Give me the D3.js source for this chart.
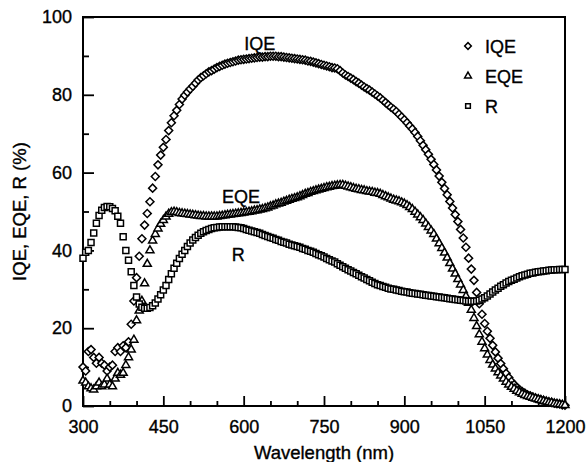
<!DOCTYPE html>
<html>
<head>
<meta charset="utf-8">
<script src="https://cdn.jsdelivr.net/npm/d3@7/dist/d3.min.js"></script>
<style>
  html, body { margin: 0; padding: 0; background: #fff; }
  svg text { font-family: "Liberation Sans", Arial, sans-serif; fill: #000; stroke: #000; stroke-width: 0.35px; }
</style>
</head>
<body>
<div id="chart"></div>
<script>
// Wavelength grid (nm), one reading every 5 nm
const wavelengths = d3.range(300, 1201, 5);

// IQE (%), 300 -> 1200 nm
const iqeValues = [
    10, 9, 14, 14.5, 12.5, 11, 12.5, 11, 10.5, 9, 10, 10.5, 14, 15, 14, 15.5, 15, 16.5, 21, 27,
    33, 38.5, 43, 46.5, 49.5, 52.5, 56, 59, 62, 64.5, 66.5, 68.5, 70.8, 72.8, 74.6, 76, 77.5, 78.9, 79.9, 80.7,
    81.5, 82.2, 83, 83.8, 84.4, 84.9, 85.4, 85.9, 86.2, 86.6, 87, 87.3, 87.6, 87.9, 88.1, 88.3, 88.5, 88.7, 88.9, 89,
    89.1, 89.2, 89.3, 89.4, 89.5, 89.6, 89.7, 89.7, 89.8, 89.8, 89.9, 89.9, 89.9, 89.8, 89.8, 89.7, 89.6, 89.5, 89.4, 89.3,
    89.2, 89.1, 89.0, 88.9, 88.7, 88.6, 88.4, 88.2, 88.0, 87.8, 87.6, 87.4, 87.2, 87.0, 86.9, 86.7, 86.2, 85.6, 85.1, 84.7,
    84.3, 83.9, 83.4, 83.0, 82.5, 82.0, 81.6, 81.2, 80.7, 80.2, 79.7, 79.2, 78.6, 78.0, 77.4, 76.8, 76.3, 75.7, 75.0, 74.3,
    73.6, 72.8, 72.0, 71.2, 70.3, 69.3, 68.2, 67.0, 65.9, 64.7, 63.4, 62.1, 60.7, 59.1, 57.5, 55.9, 54.3, 52.6, 50.9, 49.2,
    47.4, 45.4, 43.2, 40.8, 38.0, 35.2, 32.3, 29.2, 26.3, 23.6, 21.2, 19.2, 17.4, 15.6, 13.9, 12.3, 10.9, 9.6, 8.4, 7.3,
    6.3, 5.5, 4.8, 4.2, 3.7, 3.3, 2.9, 2.6, 2.3, 2.0, 1.8, 1.6, 1.4, 1.2, 1.0, 0.9, 0.7, 0.6, 0.5, 0.3,
    0.2
];

// EQE (%)
const eqeValues = [
    6.5, 6, 5, 4.5, 4.2, 5, 6, 5, 5.5, 7, 5.5, 5, 7, 8.5, 8, 8.5, 10.5, 12.5, 14.5, 17,
    22, 24.5, 27, 31.5, 36.5, 40, 42.5, 44.2, 45.6, 46.8, 47.8, 48.7, 49.4, 49.8, 49.9, 49.8, 49.6, 49.5, 49.4, 49.3,
    49.2, 49.1, 49, 48.9, 48.8, 48.8, 48.7, 48.7, 48.7, 48.7, 48.7, 48.8, 48.9, 49, 49.1, 49.2, 49.3, 49.4, 49.5, 49.6,
    49.7, 49.8, 49.9, 50, 50.2, 50.3, 50.5, 50.6, 50.8, 51, 51.3, 51.5, 51.8, 52, 52.2, 52.5, 52.7, 53, 53.2, 53.4,
    53.6, 53.9, 54.2, 54.5, 54.7, 55, 55.2, 55.4, 55.6, 55.8, 56, 56.2, 56.3, 56.5, 56.6, 56.7, 56.8, 56.8, 56.6, 56.4,
    56.2, 56, 55.8, 55.7, 55.5, 55.4, 55.2, 55.1, 55, 54.8, 54.7, 54.5, 54.2, 53.9, 53.6, 53.3, 53, 52.8, 52.6, 52.3,
    52, 51.6, 51.1, 50.6, 49.9, 49.2, 48.5, 47.8, 46.9, 46, 45.1, 44.2, 43, 41.8, 40.6, 39.4, 38.1, 36.7, 35.3, 34,
    32.6, 31.2, 29.8, 28.2, 26.5, 24.7, 22.6, 20.5, 18.4, 16.5, 14.8, 13.2, 11.8, 10.6, 9.6, 8.6, 7.8, 7, 6.2, 5.5,
    4.9, 4.4, 3.9, 3.5, 3.1, 2.8, 2.5, 2.3, 2.1, 1.9, 1.7, 1.5, 1.3, 1.1, 0.9, 0.8, 0.6, 0.5, 0.4, 0.3,
    0.2
];

// R (%)
const rValues = [
    38, 39.5, 40, 42, 44.5, 47, 49, 50.3, 51, 51.3, 51.2, 50.8, 50.2, 48.8, 47, 43.5, 40, 37.5, 34.5, 31,
    28, 26.2, 25.4, 25.1, 25.1, 25.3, 25.8, 26.5, 27.5, 28.6, 29.8, 31, 32.5, 34, 35.4, 36.7, 37.9, 39, 40, 41,
    41.9, 42.7, 43.3, 43.9, 44.4, 44.8, 45.1, 45.4, 45.6, 45.8, 45.9, 46, 46.1, 46.1, 46.1, 46.1, 46.1, 46, 45.9, 45.8,
    45.6, 45.4, 45.2, 45, 44.8, 44.6, 44.4, 44.1, 43.8, 43.6, 43.3, 43.1, 42.8, 42.6, 42.3, 42.1, 41.9, 41.6, 41.4, 41.2,
    41, 40.8, 40.5, 40.3, 40, 39.8, 39.5, 39.2, 38.9, 38.6, 38.3, 37.9, 37.6, 37.3, 37, 36.6, 36.2, 35.8, 35.4, 35,
    34.7, 34.3, 34, 33.6, 33.2, 32.9, 32.5, 32.2, 31.8, 31.5, 31.2, 31, 30.7, 30.5, 30.3, 30.1, 30, 29.8, 29.7, 29.5,
    29.4, 29.3, 29.1, 29, 28.9, 28.8, 28.7, 28.6, 28.5, 28.4, 28.3, 28.2, 28.1, 28, 27.9, 27.8, 27.7, 27.6, 27.5, 27.4,
    27.3, 27.2, 27.1, 27, 26.9, 26.9, 26.9, 27, 27.2, 27.5, 27.8, 28.3, 28.8, 29.3, 29.8, 30.3, 30.8, 31.2, 31.6, 32,
    32.3, 32.6, 32.9, 33.2, 33.5, 33.7, 33.9, 34.1, 34.2, 34.4, 34.5, 34.6, 34.7, 34.8, 34.9, 34.95, 35, 35, 35.1, 35.1,
    35.1
];

const xTicks = [300, 450, 600, 750, 900, 1050, 1200];
const xMinorTicks = [350, 400, 500, 550, 650, 700, 800, 850, 950, 1000, 1100, 1150];
const yTicks = [0, 20, 40, 60, 80, 100];
const yMinorTicks = [10, 30, 50, 70, 90];

const seriesNames = ["IQE", "EQE", "R"];
const seriesLabels = [
    { name: "IQE", wl: 630, value: 91.5 },
    { name: "EQE", wl: 595, value: 52.2 },
    { name: "R", wl: 590, value: 37.2 }
];

const width = 587, height = 462;
const margin = { top: 17, right: 22, bottom: 56, left: 83 };
const innerWidth = width - margin.left - margin.right;
const innerHeight = height - margin.top - margin.bottom;

const svg = d3.select("#chart").append("svg")
    .attr("width", width)
    .attr("height", height);

const g = svg.append("g")
    .attr("transform", `translate(${margin.left}, ${margin.top})`);

const x = d3.scaleLinear().domain([300, 1200]).range([0, innerWidth]);
const y = d3.scaleLinear().domain([0, 100]).range([innerHeight, 0]);

// marker shapes (diamond = square turned 45°)
const symbolFor = {
    "IQE": d3.symbol().type(d3.symbolSquare).size(32),
    "EQE": d3.symbol().type(d3.symbolTriangle).size(28),
    "R": d3.symbol().type(d3.symbolSquare).size(36)
};
const rotateFor = { "IQE": 45, "EQE": 0, "R": 0 };

// --- axes (ticks point inwards) ---
g.append("g")
    .attr("transform", `translate(0, ${innerHeight})`)
    .call(d3.axisBottom(x).tickValues(xTicks).tickFormat(d3.format("d"))
        .tickSizeInner(-10).tickSizeOuter(0).tickPadding(14));
g.append("g")
    .attr("class", "minor")
    .attr("transform", `translate(0, ${innerHeight})`)
    .call(d3.axisBottom(x).tickValues(xMinorTicks).tickSizeInner(-5).tickSizeOuter(0).tickFormat(""));

g.append("g")
    .call(d3.axisLeft(y).tickValues(yTicks).tickFormat(d3.format("d"))
        .tickSizeInner(-11).tickSizeOuter(0).tickPadding(11));
g.append("g")
    .attr("class", "minor")
    .call(d3.axisLeft(y).tickValues(yMinorTicks).tickSizeInner(-6).tickSizeOuter(0).tickFormat(""));

// minor ticks carry no labels
g.selectAll(".minor .tick text").remove();
g.selectAll(".domain").remove();
g.selectAll(".tick line").attr("stroke", "#000").attr("stroke-width", 1.8);
g.selectAll(".tick text")
    .style("font-size", "18px")
    .attr("fill", "#000");

// frame
g.append("rect")
    .attr("x", 0)
    .attr("y", 0)
    .attr("width", innerWidth)
    .attr("height", innerHeight)
    .attr("fill", "none")
    .attr("stroke", "#000")
    .attr("stroke-width", 2);

// axis titles
svg.append("text")
    .attr("x", margin.left + innerWidth / 2)
    .attr("y", 459)
    .attr("text-anchor", "middle")
    .style("font-size", "18.5px")
    .text("Wavelength (nm)");

svg.append("text")
    .attr("transform", `translate(26, ${margin.top + innerHeight / 2}) rotate(-90)`)
    .attr("text-anchor", "middle")
    .style("font-size", "18.5px")
    .text("IQE, EQE, R (%)");

// --- data markers ---
const seriesData = {
    "IQE": iqeValues,
    "EQE": eqeValues,
    "R": rValues
};

seriesNames.forEach(name => {
    const pts = wavelengths.map((wl, i) => ({ wl: wl, value: seriesData[name][i] }));
    g.append("g")
        .attr("class", "series-" + name)
        .selectAll("path")
        .data(pts)
        .enter()
        .append("path")
        .attr("d", symbolFor[name])
        .attr("transform", d => `translate(${x(d.wl)}, ${y(d.value)}) rotate(${rotateFor[name]})`)
        .attr("fill", "#fff")
        .attr("stroke", "#000")
        .attr("stroke-width", 1.5);
});

// curve labels inside the plot
g.selectAll(".curve-label")
    .data(seriesLabels)
    .enter()
    .append("text")
    .attr("class", "curve-label")
    .attr("x", d => x(d.wl))
    .attr("y", d => y(d.value))
    .attr("text-anchor", "middle")
    .style("font-size", "18px")
    .text(d => d.name);

// --- legend ---
const legend = svg.append("g")
    .attr("transform", "translate(468, 46)");

const legendSymbol = {
    "IQE": d3.symbol().type(d3.symbolSquare).size(22),
    "EQE": d3.symbol().type(d3.symbolTriangle).size(20),
    "R": d3.symbol().type(d3.symbolSquare).size(22)
};

const legendRows = legend.selectAll(".legend-row")
    .data(seriesNames)
    .enter()
    .append("g")
    .attr("class", "legend-row")
    .attr("transform", (d, i) => `translate(0, ${i * 30})`);

legendRows.append("path")
    .attr("d", d => legendSymbol[d]())
    .attr("transform", d => `rotate(${rotateFor[d]})`)
    .attr("fill", "#fff")
    .attr("stroke", "#000")
    .attr("stroke-width", 1.5);

legendRows.append("text")
    .attr("x", 17)
    .attr("y", 7)
    .style("font-size", "18px")
    .text(d => d);
</script>
</body>
</html>
